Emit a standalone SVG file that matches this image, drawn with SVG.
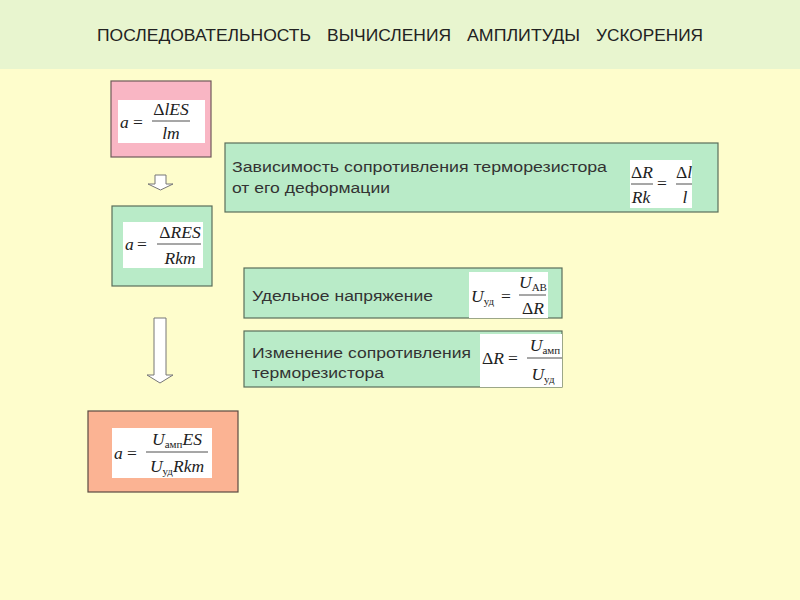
<svg xmlns="http://www.w3.org/2000/svg" width="800" height="600" viewBox="0 0 800 600">
<style>
.t{font-family:"Liberation Sans",Arial,sans-serif;font-size:15.5px;fill:#333}
.h{font-family:"Liberation Sans Narrow","Liberation Sans",Arial,sans-serif;font-size:17px;fill:#222}
.m{font-family:"Liberation Serif","DejaVu Serif",serif;font-style:italic;font-size:17.5px;fill:#222}
.n{font-style:normal}
.u{font-style:normal;font-size:11px}
.g{fill:#b9ebc8;stroke:#5a6e5a;stroke-width:1.2}
.w{fill:#fff}
.fl{stroke:#222;stroke-width:0.8}
.ar{fill:#fff;stroke:#777;stroke-width:1}
</style>
<rect x="0" y="0" width="800" height="600" fill="#fefdcc"/>
<rect x="0" y="0" width="800" height="69" fill="#e8f5cf"/>
<text class="h" x="97" y="41" textLength="214" lengthAdjust="spacingAndGlyphs">ПОСЛЕДОВАТЕЛЬНОСТЬ</text>
<text class="h" x="327" y="41" textLength="124" lengthAdjust="spacingAndGlyphs">ВЫЧИСЛЕНИЯ</text>
<text class="h" x="467" y="41" textLength="113" lengthAdjust="spacingAndGlyphs">АМПЛИТУДЫ</text>
<text class="h" x="596" y="41" textLength="107" lengthAdjust="spacingAndGlyphs">УСКОРЕНИЯ</text>

<g id="connectors">
<polygon class="ar" points="155,175 166,175 166,184 173,184 160.5,190 148,184 155,184"/>
<polygon class="ar" points="154,318 166,318 166,375 173,375 160,383 147,375 154,375"/>
</g>

<g id="node1">
<rect x="111" y="81" width="100" height="76" fill="#f9b6c4" stroke="#6e5a5a" stroke-width="1.2"/>
<rect class="w" x="118" y="100" width="87" height="43"/>
<text class="m" x="120" y="128">a</text>
<text class="m n" x="133" y="128">=</text>
<text class="m" x="171" y="115" text-anchor="middle"><tspan class="n">Δ</tspan>lES</text>
<line class="fl" x1="152" y1="121" x2="190" y2="121"/>
<text class="m" x="171" y="139" text-anchor="middle">lm</text>
</g>

<g id="node2">
<rect class="g" x="112" y="206" width="100" height="80"/>
<rect class="w" x="123" y="222" width="80" height="46"/>
<text class="m" x="125" y="250">a</text>
<text class="m n" x="137" y="250">=</text>
<text class="m" x="180" y="238" text-anchor="middle"><tspan class="n">Δ</tspan>RES</text>
<line class="fl" x1="157" y1="244" x2="201" y2="244"/>
<text class="m" x="180" y="264" text-anchor="middle">Rkm</text>
</g>

<g id="node3">
<rect class="g" x="225" y="143" width="493" height="69"/>
<text class="t" x="232" y="172" textLength="375" lengthAdjust="spacingAndGlyphs">Зависимость сопротивления терморезистора</text>
<text class="t" x="232" y="193" textLength="158" lengthAdjust="spacingAndGlyphs">от его деформации</text>
<rect class="w" x="630" y="160" width="62" height="48"/>
<text class="m" x="642" y="178" text-anchor="middle"><tspan class="n">Δ</tspan>R</text>
<line class="fl" x1="631" y1="184" x2="653" y2="184"/>
<text class="m" x="641" y="203" text-anchor="middle">Rk</text>
<text class="m n" x="657" y="189">=</text>
<text class="m" x="684" y="178" text-anchor="middle"><tspan class="n">Δ</tspan>l</text>
<line class="fl" x1="676" y1="184" x2="692" y2="184"/>
<text class="m" x="685" y="203" text-anchor="middle">l</text>
</g>

<g id="node4">
<rect class="g" x="244" y="268" width="318" height="50"/>
<text class="t" x="252" y="301" textLength="181" lengthAdjust="spacingAndGlyphs">Удельное напряжение</text>
<rect class="w" x="469" y="272" width="79" height="46"/>
<text class="m" x="471" y="302">U<tspan class="u" dy="3">уд</tspan></text>
<text class="m n" x="501" y="302">=</text>
<text class="m" x="533" y="288" text-anchor="middle">U<tspan class="u" dy="3">АВ</tspan></text>
<line class="fl" x1="519" y1="295" x2="546" y2="295"/>
<text class="m" x="533" y="314" text-anchor="middle"><tspan class="n">Δ</tspan>R</text>
</g>

<g id="node5">
<rect class="g" x="244" y="331" width="318" height="56"/>
<text class="t" x="252" y="358" textLength="219" lengthAdjust="spacingAndGlyphs">Изменение сопротивления</text>
<text class="t" x="252" y="378" textLength="132" lengthAdjust="spacingAndGlyphs">терморезистора</text>
<rect class="w" x="480" y="334" width="82" height="53"/>
<text class="m" x="482" y="364"><tspan class="n">Δ</tspan>R</text>
<text class="m n" x="508" y="364">=</text>
<text class="m" x="545" y="351" text-anchor="middle">U<tspan class="u" dy="3">амп</tspan></text>
<line class="fl" x1="527" y1="358" x2="562" y2="358"/>
<text class="m" x="543" y="380" text-anchor="middle">U<tspan class="u" dy="3">уд</tspan></text>
</g>

<g id="node6">
<rect x="88" y="411" width="150" height="81" fill="#fbb393" stroke="#5a4a42" stroke-width="1.2"/>
<rect class="w" x="112" y="428" width="100" height="50"/>
<text class="m" x="114" y="459">a</text>
<text class="m n" x="127" y="459">=</text>
<text class="m" x="177" y="445" text-anchor="middle">U<tspan class="u" dy="3">амп</tspan><tspan dy="-3">ES</tspan></text>
<line class="fl" x1="146" y1="452" x2="208" y2="452"/>
<text class="m" x="177" y="472" text-anchor="middle">U<tspan class="u" dy="3">уд</tspan><tspan dy="-3">Rkm</tspan></text>
</g>
</svg>
